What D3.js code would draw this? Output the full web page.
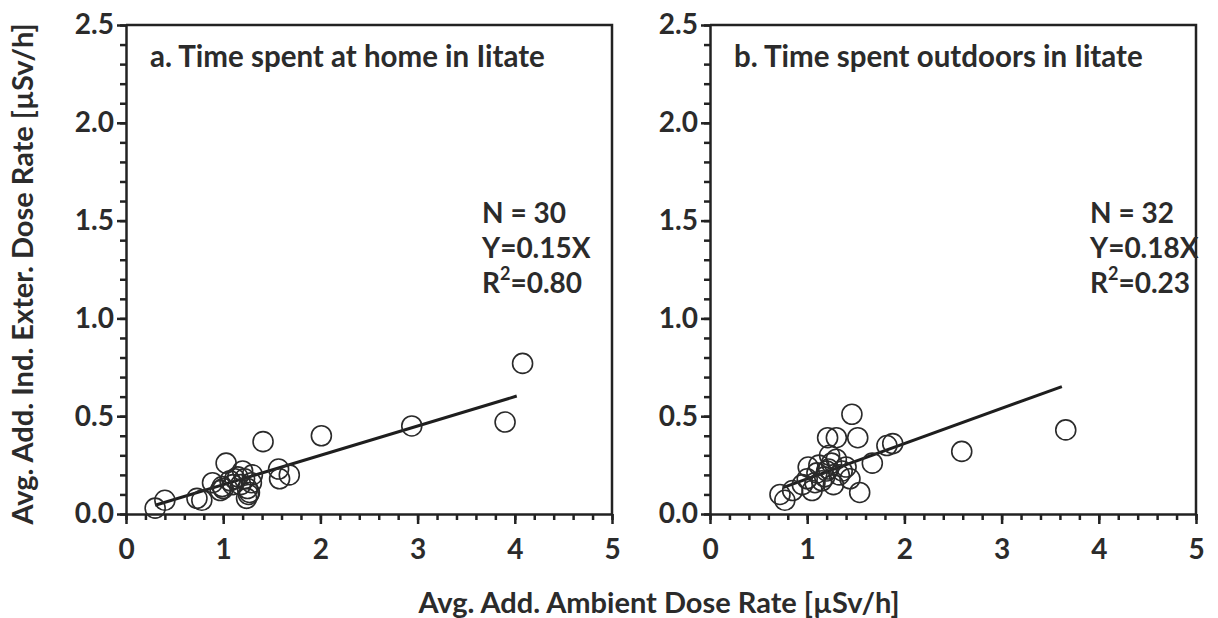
<!DOCTYPE html>
<html>
<head>
<meta charset="utf-8">
<script src="https://cdn.jsdelivr.net/npm/d3@7"></script>
<style>
  body { margin: 0; background: #fff; }
  text { font-family: Lato, "Open Sans", sans-serif; font-weight: bold; fill: #2b2b2b; }
</style>
</head>
<body>
<div id="chart"></div>
<script>
// panel a: time spent at home
var homeX = [0.30, 0.40, 0.73, 0.78, 0.89, 0.97, 1.00, 1.03, 1.07, 0.99, 1.12, 1.20, 1.22, 1.25, 1.24,
             1.27, 1.29, 1.18, 1.15, 1.30, 1.41, 1.57, 1.58, 1.68, 2.01, 2.94, 3.90, 4.08, 1.10, 1.26];
var homeY = [0.03, 0.07, 0.08, 0.07, 0.16, 0.12, 0.13, 0.26, 0.17, 0.14, 0.18, 0.22, 0.18, 0.13, 0.08,
             0.11, 0.16, 0.15, 0.19, 0.20, 0.37, 0.23, 0.18, 0.20, 0.40, 0.45, 0.47, 0.77, 0.15, 0.10];
// panel b: time spent outdoors
var outX = [0.77, 0.72, 0.85, 1.01, 1.00, 1.05, 1.10, 1.15, 1.20, 1.21, 1.30, 1.23, 1.30, 1.27, 1.36, 1.46,
            1.52, 1.44, 1.54, 1.67, 1.82, 1.88, 2.59, 3.66, 0.95, 1.12, 1.18, 1.25, 1.33, 1.40, 1.08, 1.22];
var outY = [0.07, 0.10, 0.12, 0.24, 0.18, 0.12, 0.21, 0.17, 0.22, 0.39, 0.39, 0.30, 0.28, 0.15, 0.22, 0.51,
            0.39, 0.18, 0.11, 0.26, 0.35, 0.36, 0.32, 0.43, 0.15, 0.25, 0.19, 0.26, 0.20, 0.24, 0.16, 0.23];

var xTicks = [0, 1, 2, 3, 4, 5],
    yTicks = [0, 0.5, 1.0, 1.5, 2.0, 2.5];

var panels = [
  { title: "a. Time spent at home in Iitate", xs: homeX, ys: homeY, n: "N = 30", eq: "Y=0.15X",
    r2: "=0.80", slope: 0.15, fit: [0.30, 4.02], left: 126, right: 612, stats: 482 },
  { title: "b. Time spent outdoors in Iitate", xs: outX, ys: outY, n: "N = 32", eq: "Y=0.18X",
    r2: "=0.23", slope: 0.18, fit: [0.75, 3.62], left: 710, right: 1196, stats: 1090 }
];

var width = 1218, height = 618,
    plotTop = 25, plotBottom = 514;

var svg = d3.select("#chart").append("svg")
    .attr("width", width)
    .attr("height", height);

var y = d3.scaleLinear().domain([0, 2.5]).range([plotBottom, plotTop]);

panels.forEach(function(p) {
  var x = d3.scaleLinear().domain([0, 5]).range([p.left, p.right]);
  var g = svg.append("g");

  // frame (top + right)
  g.append("path")
      .attr("d", "M" + x(0) + "," + y(2.5) + "H" + x(5) + "V" + y(0))
      .attr("fill", "none")
      .attr("stroke", "#222")
      .attr("stroke-width", 2.5);

  // x axis: minor ticks every 0.2
  g.append("g")
      .attr("transform", "translate(0," + y(0) + ")")
      .call(d3.axisBottom(x).tickValues(d3.range(0, 5.01, 0.2)).tickSize(6).tickFormat("").tickSizeOuter(0));
  g.append("g")
      .attr("transform", "translate(0," + y(0) + ")")
      .call(d3.axisBottom(x).tickValues(xTicks).tickSize(10).tickPadding(15).tickSizeOuter(0)
            .tickFormat(d3.format("d")))
      .call(function(a) { a.select(".domain").remove(); })
      .selectAll("text").style("font-size", "28px").attr("fill", "#2b2b2b");

  // y axis: minor ticks every 0.1
  g.append("g")
      .attr("transform", "translate(" + x(0) + ",0)")
      .call(d3.axisLeft(y).tickValues(d3.range(0, 2.501, 0.1)).tickSize(6).tickFormat("").tickSizeOuter(0));
  g.append("g")
      .attr("transform", "translate(" + x(0) + ",0)")
      .call(d3.axisLeft(y).tickValues(yTicks).tickSize(9).tickPadding(3).tickSizeOuter(0)
            .tickFormat(d3.format(".1f")))
      .call(function(a) { a.select(".domain").remove(); })
      .selectAll("text").style("font-size", "28px").attr("fill", "#2b2b2b");

  g.selectAll(".domain, .tick line")
      .attr("stroke", "#222")
      .attr("stroke-width", 2.5);

  // fitted line
  g.append("line")
      .attr("x1", x(p.fit[0])).attr("y1", y(p.fit[0] * p.slope))
      .attr("x2", x(p.fit[1])).attr("y2", y(p.fit[1] * p.slope))
      .attr("stroke", "#1e1e1e")
      .attr("stroke-width", 3);

  // points
  g.selectAll("circle")
      .data(p.xs)
      .enter().append("circle")
        .attr("cx", function(d) { return x(d); })
        .attr("cy", function(d, i) { return y(p.ys[i]); })
        .attr("r", 10)
        .attr("fill", "none")
        .attr("stroke", "#2a2a2a")
        .attr("stroke-width", 1.6);

  // title
  g.append("text")
      .attr("x", x(0) + 24)
      .attr("y", 67)
      .style("font-size", "29.5px")
      .text(p.title);

  // stats
  var st = g.append("text")
      .style("font-size", "28px");
  st.append("tspan").attr("x", p.stats).attr("y", 223).text(p.n);
  st.append("tspan").attr("x", p.stats).attr("y", 258).text(p.eq);
  st.append("tspan").attr("x", p.stats).attr("y", 293).text("R");
  st.append("tspan").attr("dy", -13).style("font-size", "18px").text("2");
  st.append("tspan").attr("dy", 13).text(p.r2);
});

// axis titles
svg.append("text")
    .attr("transform", "translate(33,274) rotate(-90)")
    .attr("text-anchor", "middle")
    .style("font-size", "29px")
    .text("Avg. Add. Ind. Exter. Dose Rate [µSv/h]");

svg.append("text")
    .attr("x", 659)
    .attr("y", 613)
    .attr("text-anchor", "middle")
    .style("font-size", "29px")
    .text("Avg. Add. Ambient Dose Rate [µSv/h]");
</script>
</body>
</html>
